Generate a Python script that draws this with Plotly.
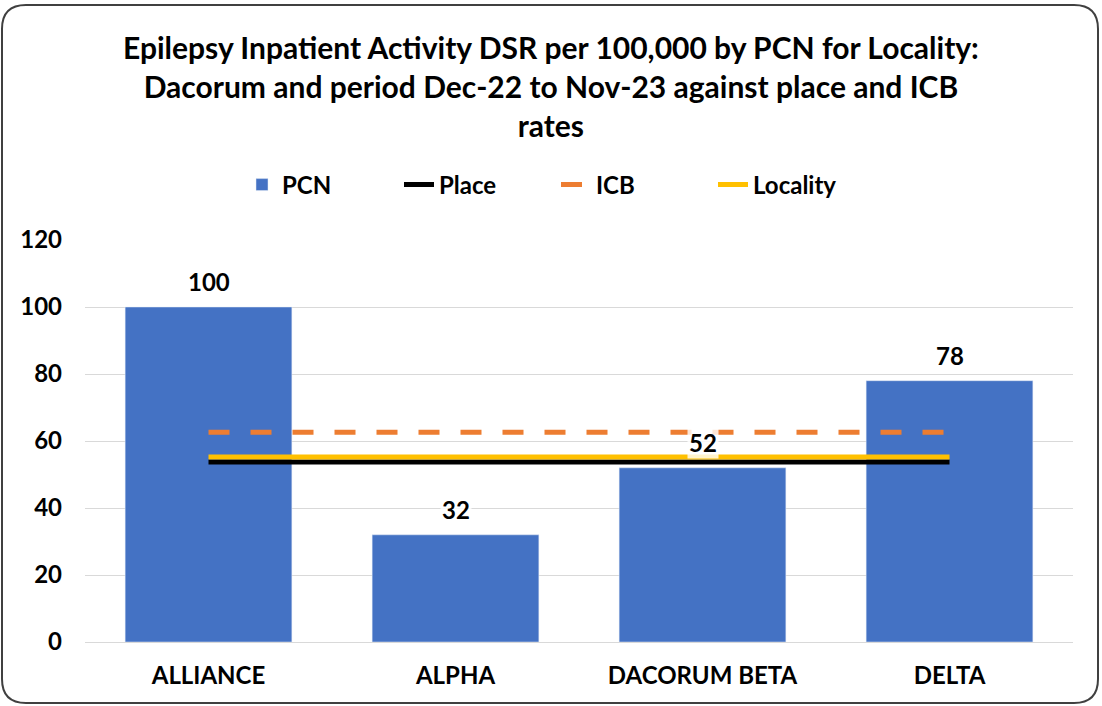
import plotly.graph_objects as go

# PCN rates with place / ICB / locality comparators
categories = ["ALLIANCE", "ALPHA", "DACORUM BETA", "DELTA"]
pcn_rate = [100, 32, 52, 78]
pcn_labels = ["100", "32", "52", "78"]
place_rate = [53.7, 53.7, 53.7, 53.7]
icb_rate = [62.6, 62.6, 62.6, 62.6]
locality_rate = [55.2, 55.2, 55.2, 55.2]
y_ticks = [0, 20, 40, 60, 80, 100, 120]

FONT = "Lato"
W, H = 1102, 706
L, R, T, B = 85, 29, 240, 64


def px_to_paper(px, py):
    return (px - L) / (W - L - R), (H - B - py) / (H - T - B)


fig = go.Figure()

fig.add_trace(go.Bar(x=categories, y=pcn_rate, name="PCN", marker_color="#4472C4",
                     width=0.675))
fig.add_trace(go.Scatter(x=categories, y=place_rate, name="Place", mode="lines",
                         line=dict(color="#000000", width=5)))
fig.add_trace(go.Scatter(x=categories, y=icb_rate, name="ICB", mode="lines",
                         line=dict(color="#ED7D31", width=5, dash="21px,21px")))
fig.add_trace(go.Scatter(x=categories, y=locality_rate, name="Locality", mode="lines",
                         line=dict(color="#FFC000", width=5)))

# data labels
for c, v, t in zip(categories, pcn_rate, pcn_labels):
    fig.add_annotation(x=c, y=v, text=t, showarrow=False, yanchor="bottom",
                       yshift=9, bgcolor="rgba(255,255,255,0.8)",
                       font=dict(family=FONT, size=24, color="#000000", weight="bold"))

# title as an annotation so the three lines sit where they should
tx, ty = px_to_paper(551, 86)
fig.add_annotation(x=tx, y=ty, xref="paper", yref="paper", showarrow=False,
                   xanchor="center", yanchor="middle",
                   text="Epilepsy Inpatient Activity DSR per 100,000 by PCN for Locality:<br>"
                        "Dacorum and period Dec-22 to Nov-23 against place and ICB<br>rates",
                   font=dict(family=FONT, size=30, color="#000000", weight="bold"))

# rounded border around the chart
x0, y0 = px_to_paper(2, 5)
x1, y1 = px_to_paper(1098, 703)
rx = 24 / (W - L - R)
ry = 24 / (H - T - B)
path = (f"M {x0+rx},{y0} L {x1-rx},{y0} Q {x1},{y0} {x1},{y0-ry} "
        f"L {x1},{y1+ry} Q {x1},{y1} {x1-rx},{y1} L {x0+rx},{y1} "
        f"Q {x0},{y1} {x0},{y1+ry} L {x0},{y0-ry} Q {x0},{y0} {x0+rx},{y0} Z")
fig.add_shape(type="path", path=path, xref="paper", yref="paper",
              line=dict(color="#404040", width=2), layer="above")

lx, ly = px_to_paper(556, 185)
fig.update_layout(
    width=W, height=H,
    margin=dict(l=L, r=R, t=T, b=B),
    paper_bgcolor="white", plot_bgcolor="white",
    legend=dict(orientation="h", x=lx, xanchor="center", y=ly, yanchor="middle",
                font=dict(family=FONT, size=24, color="#000000", weight="bold"),
                traceorder="normal", entrywidth=112, entrywidthmode="pixels"),
    bargap=0.325,
    showlegend=True,
)
fig.update_xaxes(showgrid=False, showline=True, linecolor="#d9d9d9", linewidth=1,
                 ticks="", ticklabelstandoff=12,
                 tickfont=dict(family=FONT, size=24, color="#000000", weight="bold"))
fig.update_yaxes(range=[0, 120], tickvals=y_ticks, showgrid=True, gridcolor="#d9d9d9",
                 gridwidth=1, zeroline=False, showline=False, ticks="",
                 ticklabelstandoff=22,
                 tickfont=dict(family=FONT, size=24, color="#000000", weight="bold"))

fig.write_html("out.html", config={"displayModeBar": False},
               post_script="document.body.style.margin='0';")
